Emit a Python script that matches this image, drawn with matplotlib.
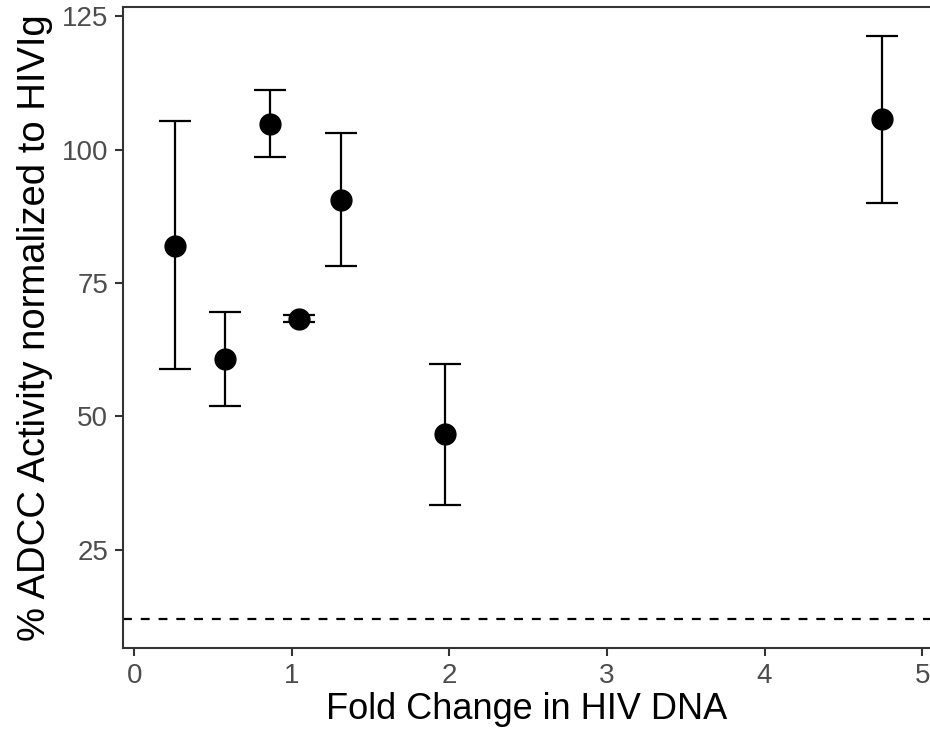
import matplotlib.pyplot as plt

# Fold change vs ADCC activity (mean with error range)
fold_change = [0.26, 0.576, 0.861, 1.043, 1.311, 1.973, 4.746]
adcc_mean = [82.0, 60.7, 104.9, 68.3, 90.6, 46.6, 105.7]
adcc_upper = [105.3, 69.5, 111.1, 68.9, 103.1, 59.8, 121.4]
adcc_lower = [58.8, 52.0, 98.6, 67.6, 78.2, 33.4, 90.0]
cutoff = 12

err_low = [m - lo for m, lo in zip(adcc_mean, adcc_lower)]
err_high = [hi - m for m, hi in zip(adcc_mean, adcc_upper)]

plt.rcParams['font.family'] = ['Liberation Sans', 'DejaVu Sans']

fig = plt.figure(figsize=(9.3, 7.38), dpi=100)
ax = fig.add_axes([0.1326, 0.1224, 0.8674, 0.8681])

ax.errorbar(fold_change, adcc_mean, yerr=[err_low, err_high], fmt='o',
            color='black', markersize=15, elinewidth=1.6, capsize=11.2,
            capthick=1.6)
ax.axhline(cutoff, color='black', linestyle=(0, (4, 4)), linewidth=1.6)

ax.set_xlim(-0.07, 5.05)
ax.set_ylim(6.6, 126.75)
ax.set_xticks([0, 1, 2, 3, 4, 5])
ax.set_yticks([25, 50, 75, 100, 125])

for side in ['left', 'bottom', 'top']:
    ax.spines[side].set_color('#333333')
    ax.spines[side].set_linewidth(1.5)
ax.spines['right'].set_visible(False)

ax.tick_params(axis='both', labelsize=20, labelcolor='#4D4D4D',
               color='#333333', width=1.5, length=6, pad=5)

ax.set_xlabel('Fold Change in HIV DNA', fontsize=26, labelpad=2)
ax.set_ylabel('% ADCC Activity normalized to HIVIg', fontsize=27.5, labelpad=6)

fig.savefig('out.png', dpi=100)
